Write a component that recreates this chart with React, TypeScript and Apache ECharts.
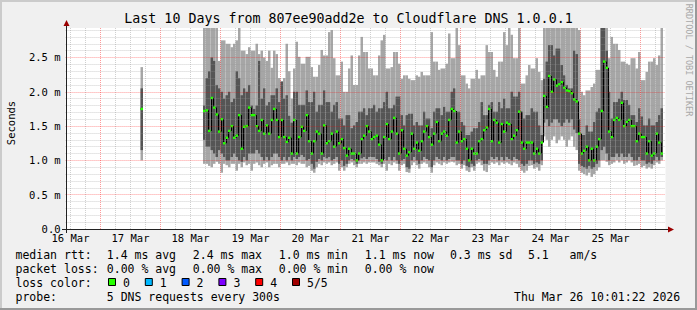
import React, { useEffect, useRef } from "react";
import * as echarts from "echarts";

// ---- time axis (hours after Mar 16 00:00) ----
const START_HOUR = 10 + 1 / 60 + 22 / 3600; // Mar 16 10:01:22
const END_HOUR = START_HOUR + 240; // Mar 26 10:01:22
const DAY_LABELS = ["16 Mar", "17 Mar", "18 Mar", "19 Mar", "20 Mar", "21 Mar", "22 Mar", "23 Mar", "24 Mar", "25 Mar"];
const LABEL_HOURS = [12, 36, 60, 84, 108, 132, 156, 180, 204, 228];
const Y_TICKS = [0, 0.5, 1.0, 1.5, 2.0, 2.5];

// ---- isolated sample (Mar 17 16:00) ----
const ISO_HOUR = [40];
const ISO_MIN = [1.0];
const ISO_P2 = [1.15];
const ISO_MEDIAN = [1.75];
const ISO_P4 = [2.05];
const ISO_MAX = [2.36];

// ---- hourly samples from Mar 18 17:00 on (ms) ----
const FIRST_HOUR = 65;
const medianMs = [
  1.72, 1.73, 1.43, 1.91, 1.77, 1.67, 1.42, 1.60, 1.25, 1.33, 1.43, 1.50, 1.33, 1.36, 1.66, 1.17, 1.49, 1.50, 1.77, 1.66,
  1.66, 1.50, 1.43, 1.59, 1.39, 1.51, 1.39, 1.59, 1.75, 1.59, 1.34, 1.59, 1.34, 1.27, 1.33, 1.10,
  1.59, 1.10, 1.34, 1.49, 1.43, 1.66, 1.28, 1.10, 1.28, 1.42, 1.39, 1.10, 1.51, 1.25, 1.28, 1.39, 1.20, 1.42, 1.25, 1.31,
  1.18, 1.07, 1.17, 1.10, 1.10, 1.00, 1.10, 1.31, 1.36, 1.50, 1.42, 1.31, 1.34, 1.36, 1.23, 1.00, 1.34,
  1.53, 1.31, 1.42, 1.62, 1.39, 1.10, 1.44, 1.17, 1.07, 1.12, 1.39, 1.17, 1.26, 1.14, 1.28, 1.42, 1.50, 1.34, 1.23, 1.39,
  1.56, 1.28, 1.39, 1.42, 1.36, 1.59, 1.75, 1.72, 1.26, 1.42, 1.28, 1.31, 1.17, 1.00, 1.17, 1.10, 1.10, 1.28,
  1.31, 1.44, 1.48, 1.75, 1.28, 1.59, 1.55, 1.26, 1.53, 1.42, 1.55, 1.53, 1.31, 1.36, 1.44, 1.71, 1.26, 1.17, 1.26, 1.26,
  1.26, 1.10, 1.17, 1.10, 1.26, 1.94, 1.78, 2.23, 2.00, 2.18, 2.09, 2.11, 2.14, 2.06, 2.02, 2.01, 1.98,
  1.89, 1.86, 1.39, 1.10, 1.14, 1.20, 1.00, 1.17, 1.00, 1.20, 1.31, 1.72, 2.44, 2.35, 1.42, 1.34, 1.59, 1.62, 1.59, 1.84,
  1.50, 1.56, 1.59, 1.50, 1.50, 1.28, 1.39, 1.34, 1.34, 1.10, 1.28, 1.07, 1.10, 1.39, 1.26, 1.10,
];
const maxMs = [
  3.0, 3.0, 3.0, 3.0, 3.0, 3.0, 2.45, 2.75, 2.75, 2.7, 2.7, 2.65, 2.7, 2.75, 3.0, 2.6, 2.6, 2.55, 2.65, 2.6,
  2.6, 2.7, 2.55, 2.6, 2.5, 2.45, 2.6, 2.35, 2.6, 2.55, 2.2, 2.15, 2.2, 2.7, 2.3, 1.9,
  2.34, 2.73, 2.51, 2.41, 2.41, 2.51, 2.51, 2.36, 2.22, 2.22, 2.39, 2.61, 2.53, 2.53, 2.87, 2.9, 2.49, 2.24, 2.24, 2.44,
  2.0, 2.0, 2.34, 2.53, 2.1, 2.1, 2.53, 2.8, 2.58, 2.58, 2.34, 2.34, 2.24, 2.24, 2.53, 2.75, 2.83,
  2.34, 2.34, 2.36, 2.58, 2.58, 2.41, 2.19, 2.24, 2.24, 2.19, 2.17, 2.17, 2.24, 2.22, 2.29, 2.24, 2.24, 2.24, 2.87, 2.44,
  2.44, 2.32, 2.34, 2.34, 2.41, 2.85, 2.49, 2.49, 3.0, 2.68, 2.24, 2.24, 2.12, 2.05, 2.19, 2.19, 2.32, 2.19,
  2.24, 2.24, 2.68, 2.58, 2.58, 2.32, 2.22, 2.44, 2.44, 2.87, 2.68, 3.0, 2.83, 2.49, 2.49, 3.0, 2.12, 2.12, 2.24, 2.39,
  2.34, 2.34, 2.49, 2.29, 2.17, 3.0, 3.0, 3.0, 3.0, 3.0, 3.0, 3.0, 3.0, 3.0, 3.0, 3.0, 3.0,
  3.0, 3.0, 2.9, 2.0, 1.95, 2.02, 2.02, 2.07, 2.12, 2.32, 2.32, 3.0, 3.0, 3.0, 2.49, 2.8, 2.7, 2.7, 2.61, 2.44,
  2.44, 2.41, 2.39, 2.49, 2.49, 2.34, 2.58, 2.17, 2.17, 2.29, 2.44, 2.44, 2.49, 2.39, 2.53, 3.0,
];
const p4Ms = [
  1.8, 2.2, 2.3, 2.5, 2.45, 2.1, 2.05, 2.0, 1.9, 1.95, 2.0, 1.85, 1.9, 2.3, 2.2, 1.95, 2.05, 2.0, 2.1, 1.8,
  1.75, 1.8, 2.45, 1.9, 2.05, 1.8, 1.85, 1.95, 1.95, 2.05, 1.85, 2.15, 1.9, 1.95, 1.65, 1.55,
  2.0, 2.0, 1.81, 1.81, 1.81, 2.02, 1.85, 1.85, 2.0, 1.71, 1.81, 1.81, 2.02, 1.85, 1.85, 1.71, 1.81, 1.85, 1.61, 1.61,
  1.51, 1.66, 1.66, 1.47, 1.51, 1.56, 1.71, 1.71, 1.76, 1.66, 1.76, 1.76, 1.81, 1.71, 1.76, 1.76, 1.85,
  2.0, 1.76, 1.76, 1.81, 1.93, 1.93, 1.66, 1.51, 1.66, 1.68, 1.68, 1.51, 1.56, 1.51, 1.51, 1.71, 1.61, 1.61, 1.47, 1.71,
  1.76, 1.76, 1.66, 1.78, 1.71, 1.71, 2.0, 2.05, 1.71, 1.71, 1.56, 1.51, 1.37, 1.37, 1.42, 1.47, 1.47, 1.56,
  1.85, 1.66, 1.66, 1.81, 1.85, 1.71, 1.71, 1.85, 1.76, 1.9, 1.76, 1.76, 2.0, 1.93, 1.93, 2.0, 1.71, 1.61, 1.66, 1.66,
  1.76, 1.71, 1.71, 1.51, 1.37, 2.19, 2.44, 2.68, 2.68, 2.53, 2.63, 2.63, 2.39, 2.24, 2.1, 2.05, 2.05,
  2.6, 2.55, 1.6, 1.37, 1.37, 1.51, 1.42, 1.42, 1.56, 1.71, 1.76, 3.0, 3.0, 2.6, 2.0, 1.61, 1.85, 1.85, 1.9, 2.0,
  1.88, 1.88, 1.81, 1.66, 1.66, 1.56, 1.76, 1.64, 1.51, 1.51, 1.61, 1.51, 1.51, 1.56, 1.66, 1.76,
];
const p2Ms = [
  1.3, 1.2, 1.2, 1.15, 1.1, 1.05, 1.15, 1.1, 1.05, 1.0, 1.0, 1.05, 1.1, 1.05, 1.0, 0.98, 1.05, 1.0, 1.1, 1.1,
  1.1, 1.15, 1.1, 1.05, 1.0, 1.05, 1.0, 1.05, 1.1, 1.1, 1.05, 1.0, 1.05, 1.0, 1.05, 1.0,
  1.05, 1.02, 1.05, 1.08, 1.05, 1.0, 1.02, 0.95, 0.88, 0.98, 1.02, 1.0, 1.05, 1.03, 1.05, 1.0, 1.02, 1.05, 0.95, 1.0,
  0.92, 0.95, 1.0, 1.02, 1.0, 0.95, 1.0, 1.03, 1.05, 1.02, 1.05, 1.05, 1.05, 1.02, 0.98, 0.95, 1.02,
  1.0, 1.05, 1.0, 1.05, 1.0, 0.95, 1.0, 1.02, 0.9, 0.88, 1.0, 1.05, 1.0, 0.95, 1.0, 1.05, 1.02, 1.0, 0.9, 1.0,
  1.05, 1.02, 1.0, 1.05, 1.0, 1.02, 1.05, 1.05, 1.0, 1.0, 0.95, 1.0, 0.92, 0.9, 0.95, 0.92, 1.0, 1.02,
  1.0, 0.95, 0.95, 1.0, 1.05, 1.02, 1.05, 1.0, 1.05, 1.0, 1.05, 1.02, 1.0, 1.05, 1.02, 1.0, 0.95, 0.92, 0.95, 1.0,
  1.0, 0.95, 0.97, 0.95, 1.0, 1.55, 1.6, 1.5, 1.55, 1.6, 1.6, 1.55, 1.5, 1.55, 1.6, 1.55, 1.6,
  1.45, 1.4, 0.95, 0.92, 0.9, 0.88, 0.92, 0.88, 0.9, 0.95, 1.0, 1.15, 1.2, 1.1, 1.0, 1.05, 1.05, 1.1, 1.05, 1.1,
  1.05, 1.05, 1.1, 1.05, 1.0, 1.0, 1.05, 1.0, 1.0, 0.95, 0.97, 0.95, 1.0, 1.05, 1.0, 1.05,
];
const minMs = [
  0.95, 0.95, 0.92, 0.9, 0.95, 0.98, 0.95, 0.82, 0.95, 0.93, 0.9, 0.95, 0.95, 0.85, 0.95, 0.9, 0.97, 0.93, 0.95, 0.85,
  0.95, 0.97, 0.93, 0.9, 0.95, 0.97, 0.9, 0.93, 0.95, 0.95, 0.9, 0.95, 0.95, 0.97, 0.93, 0.95,
  0.95, 0.93, 0.97, 0.95, 0.95, 0.9, 0.92, 0.85, 0.82, 0.9, 0.95, 0.93, 0.97, 0.95, 0.97, 0.93, 0.95, 0.97, 0.85, 0.9,
  0.85, 0.9, 0.95, 0.97, 0.93, 0.9, 0.95, 0.95, 0.97, 0.95, 0.97, 0.97, 0.97, 0.95, 0.93, 0.9, 0.95,
  0.85, 0.95, 0.93, 0.97, 0.95, 0.85, 0.93, 0.95, 0.83, 0.82, 0.93, 0.97, 0.93, 0.88, 0.95, 0.97, 0.95, 0.9, 0.82, 0.93,
  0.97, 0.95, 0.93, 0.97, 0.95, 0.97, 0.98, 0.97, 0.93, 0.95, 0.88, 0.93, 0.85, 0.83, 0.9, 0.85, 0.95, 0.97,
  0.93, 0.85, 0.83, 0.93, 0.97, 0.95, 0.97, 0.93, 0.97, 0.95, 0.97, 0.95, 0.93, 0.97, 0.95, 0.9, 0.85, 0.82, 0.85, 0.92,
  0.93, 0.88, 0.9, 0.85, 0.93, 1.35, 1.3, 1.2, 1.3, 1.35, 1.25, 1.3, 1.35, 1.3, 1.2, 1.3, 1.35,
  1.2, 1.15, 0.85, 0.82, 0.8, 0.78, 0.82, 0.76, 0.8, 0.85, 0.9, 1.0, 1.0, 0.98, 0.93, 0.95, 0.97, 1.0, 0.97, 1.0,
  0.95, 0.97, 1.0, 0.97, 0.92, 0.93, 0.95, 0.9, 0.92, 0.88, 0.9, 0.88, 0.93, 0.97, 0.95, 1.0,
];

// ---- legend texts ----
const RTT_ROW = ["median rtt:", "1.4 ms avg", "2.4 ms max", "1.0 ms min", "1.1 ms now", "0.3 ms sd", "5.1   am/s"];
const LOSS_ROW = ["packet loss:", "0.00 % avg", "0.00 % max", "0.00 % min", "0.00 % now"];
const LOSS_LABELS = ["0", "1", "2", "3", "4", "5/5"];
const LOSS_COLORS = ["#26ff00", "#00b8ff", "#0059ff", "#7e00ff", "#ff0000", "#a10000"];
const PROBE_TEXT = "5 DNS requests every 300s";
const DATE_TEXT = "Thu Mar 26 10:01:22 2026";
const TITLE = "Last 10 Days from 807ee90add2e to Cloudflare DNS 1.0.0.1";

const MONO = '"DejaVu Sans Mono", monospace';
const LIGHT = "#a6a6a6";
const DARK = "#555555";
const GREEN = "#26ff00";

function buildSmoke() {
  const rows: number[][] = [];
  ISO_HOUR.forEach((h, i) => rows.push([h, ISO_MIN[i], ISO_P2[i], ISO_MEDIAN[i], ISO_P4[i], ISO_MAX[i], ISO_MEDIAN[i]]));
  medianMs.forEach((m, i) => {
    rows.push([FIRST_HOUR + i, minMs[i], p2Ms[i], m, p4Ms[i], maxMs[i], i === 0 ? m : medianMs[i - 1]]);
  });
  return rows;
}

export default function App() {
  const ref = useRef<HTMLDivElement>(null);
  useEffect(() => {
    document.body.style.margin = "0";
    const chart = echarts.init(ref.current!, null, { renderer: "svg" });
    const rows = buildSmoke();

    const gridLines: any[] = [];
    const major = { color: "rgba(255,0,0,0.4)", width: 1, type: [1, 1] };
    const minor = { color: "rgba(150,150,150,0.45)", width: 1, type: [1, 1] };
    for (let h = 12; h < END_HOUR; h += 6) {
      gridLines.push({ xAxis: h, lineStyle: h % 24 === 0 ? major : minor });
    }
    for (let t = 1; t <= 29; t++) {
      gridLines.push({ yAxis: t / 10, lineStyle: t % 5 === 0 ? major : minor });
    }

    const texts: any[] = [];
    const txt = (x: number, y: number, s: string, size: number) =>
      texts.push({
        type: "text",
        x,
        y,
        silent: true,
        z: 100,
        style: {
          text: s,
          font: `${size}px ${MONO}`,
          fill: "#000",
          align: "left",
          verticalAlign: "middle",
          textAlign: "left",
          textVerticalAlign: "middle",
        },
      });

    const rttX = [15.5, 106.8, 192.8, 278.8, 364.8, 450, 528];
    RTT_ROW.forEach((s, i) => txt(rttX[i], 254.5, s, 11.5));
    LOSS_ROW.forEach((s, i) => txt(rttX[i], 268.5, s, 11.5));
    txt(15.5, 282.5, "loss color:", 11.5);
    LOSS_LABELS.forEach((s, i) => txt(123 + i * 36.8, 282.5, s, 11.5));
    txt(15.5, 296.5, "probe:", 11.5);
    txt(106.8, 296.5, PROBE_TEXT, 11.5);
    txt(514, 296.5, DATE_TEXT, 11.5);

    const boxes = LOSS_COLORS.map((c, i) => ({
      type: "rect",
      silent: true,
      z: 100,
      shape: { x: 108.5 + i * 36.8, y: 278.5, width: 7, height: 7 },
      style: { fill: c, stroke: "#000", lineWidth: 1 },
    }));

    const option: any = {
      animation: false,
      backgroundColor: "#f0f0f0",
      grid: { left: 65.557, top: 28, width: 600, height: 201, show: true, backgroundColor: "#ffffff", borderWidth: 0 },
      xAxis: {
        type: "value",
        min: START_HOUR,
        max: END_HOUR,
        axisLine: { show: false },
        axisTick: { show: false },
        splitLine: { show: false },
        axisLabel: {
          customValues: LABEL_HOURS,
          margin: 3,
          color: "#000",
          fontFamily: MONO,
          fontSize: 10.5,
          formatter: (v: number) => {
            const i = LABEL_HOURS.indexOf(Math.round(v));
            return Math.abs(v - Math.round(v)) < 1e-6 && i >= 0 ? DAY_LABELS[i] : "";
          },
        },
      },
      yAxis: {
        type: "value",
        min: 0,
        max: 2.93,
        interval: 0.5,
        axisLine: { show: false },
        axisTick: { show: false },
        splitLine: { show: false },
        axisLabel: {
          margin: 5,
          color: "#000",
          fontFamily: MONO,
          fontSize: 10.5,
          showMaxLabel: false,
          formatter: (v: number) => {
            const hit = Y_TICKS.find((t) => Math.abs(t - v) < 1e-6);
            if (hit === undefined) return "";
            return hit === 0 ? "0.0" : hit.toFixed(1) + " m";
          },
        },
      },
      series: [
        {
          type: "custom",
          z: 2,
          clip: true,
          silent: true,
          data: rows,
          renderItem: (_p: any, api: any) => {
            const t = api.value(0);
            const a = api.coord([t, api.value(1)]);
            const b = api.coord([t + 1, api.value(5)]);
            const c = api.coord([t, api.value(2)]);
            const d = api.coord([t + 1, api.value(4)]);
            return {
              type: "group",
              children: [
                { type: "rect", shape: { x: a[0], y: b[1], width: b[0] - a[0], height: a[1] - b[1] }, style: { fill: LIGHT } },
                { type: "rect", shape: { x: c[0], y: d[1], width: d[0] - c[0], height: c[1] - d[1] }, style: { fill: DARK } },
              ],
            };
          },
        },
        {
          type: "custom",
          z: 3,
          clip: true,
          silent: true,
          data: rows,
          renderItem: (_p: any, api: any) => {
            const t = api.value(0);
            const a = api.coord([t, api.value(3)]);
            const b = api.coord([t + 1, api.value(3)]);
            const p = api.coord([t, api.value(6)]);
            const lx = Math.round(a[0]) + 0.5;
            return {
              type: "group",
              children: [
                { type: "line", shape: { x1: lx, y1: p[1], x2: lx, y2: a[1] }, style: { stroke: "#000", lineWidth: 1 } },
                { type: "line", shape: { x1: a[0], y1: a[1], x2: b[0], y2: b[1] }, style: { stroke: "#000", lineWidth: 1 } },
                { type: "rect", shape: { x: a[0], y: a[1] - 1.2, width: b[0] - a[0], height: 2.4 }, style: { fill: GREEN } },
              ],
            };
          },
        },
        {
          type: "line",
          data: [],
          z: 5,
          silent: true,
          markLine: {
            silent: true,
            symbol: ["none", "none"],
            label: { show: false },
            emphasis: { disabled: true },
            data: gridLines,
          },
        },
      ],
      graphic: [
        // 3d frame
        { type: "rect", silent: true, shape: { x: 0, y: 0, width: 697, height: 2 }, style: { fill: "#cbcbcb" } },
        { type: "rect", silent: true, shape: { x: 0, y: 0, width: 2, height: 310 }, style: { fill: "#cbcbcb" } },
        { type: "rect", silent: true, shape: { x: 0, y: 308, width: 697, height: 2 }, style: { fill: "#999999" } },
        { type: "rect", silent: true, shape: { x: 695, y: 0, width: 2, height: 310 }, style: { fill: "#999999" } },
        // axes
        { type: "line", silent: true, z: 50, shape: { x1: 62, y1: 229.5, x2: 670, y2: 229.5 }, style: { stroke: "#222", lineWidth: 1 } },
        { type: "line", silent: true, z: 50, shape: { x1: 66.5, y1: 233, x2: 66.5, y2: 25 }, style: { stroke: "#222", lineWidth: 1 } },
        { type: "polygon", silent: true, z: 51, shape: { points: [[66.5, 20], [63.5, 26], [69.5, 26]] }, style: { fill: "#9b0000" } },
        { type: "polygon", silent: true, z: 51, shape: { points: [[674, 229.5], [668, 226.5], [668, 232.5]] }, style: { fill: "#9b0000" } },
        // title
        {
          type: "text", silent: true, x: 348.5, y: 18,
          style: { text: TITLE, font: `13.3px ${MONO}`, fill: "#000", align: "center", verticalAlign: "middle", textAlign: "center", textVerticalAlign: "middle" },
        },
        // y axis name
        {
          type: "text", silent: true, x: 10.5, y: 123, rotation: Math.PI / 2,
          style: { text: "Seconds", font: `10.5px ${MONO}`, fill: "#000", align: "center", verticalAlign: "middle", textAlign: "center", textVerticalAlign: "middle" },
        },
        // watermark
        {
          type: "text", silent: true, x: 688.5, y: 60, rotation: -Math.PI / 2,
          style: { text: "RRDTOOL / TOBI OETIKER", font: `8.5px ${MONO}`, fill: "#a8a8a8", align: "center", verticalAlign: "middle", textAlign: "center", textVerticalAlign: "middle" },
        },
        ...boxes,
        ...texts,
      ],
    };
    chart.setOption(option);
    return () => chart.dispose();
  }, []);
  return <div ref={ref} style={{ width: 697, height: 310 }} />;
}
